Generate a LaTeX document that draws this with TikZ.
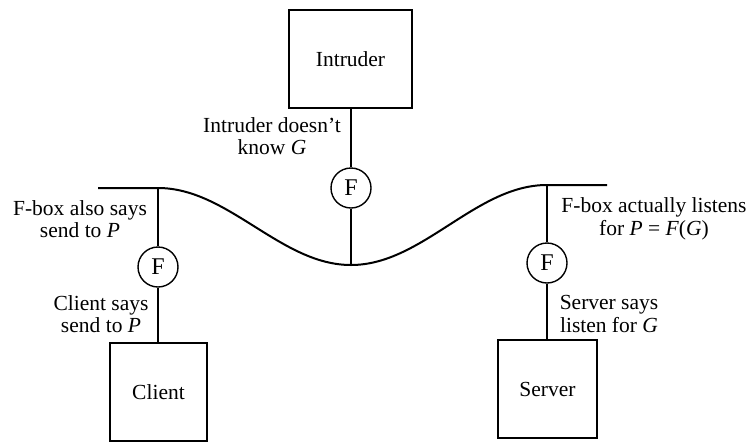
\documentclass[tikz,border=0pt]{standalone}
\usepackage{fontspec}
\setmainfont{Liberation Serif}
\begin{document}
\begin{tikzpicture}[x=1pt,y=-1pt,
  txt/.style={font=\fontsize{21.5}{22.5}\selectfont},
  lbl/.style={txt, align=center, inner sep=0pt},
  box/.style={draw, line width=1.8pt, minimum height=98pt, inner sep=0pt, txt},
  fcirc/.style={circle, draw, line width=1.4pt, minimum size=40pt, inner sep=0pt,
                font=\fontsize{24}{24}\selectfont},
  wire/.style={line width=1.5pt},
  cable/.style={line width=2pt}]
\useasboundingbox (0,0) rectangle (751,442);

% hosts
\node[box, minimum width=123pt] (intruder) at (350.5,59) {Intruder};
\node[box, minimum width=97pt]  (client)   at (158.5,392) {Client};
\node[box, minimum width=99pt]  (server)   at (547.5,389) {Server};

% F-boxes
\node[fcirc] (fi) at (351,188) {F};
\node[fcirc] (fl) at (158,267) {F};
\node[fcirc] (fr) at (547,263) {F};

% shared network cable
\coordinate (lend) at (98,188);
\coordinate (ltop) at (158,188);
\coordinate (bot)  at (351,265);
\coordinate (rtop) at (547,185);
\coordinate (rend) at (607,185);
\draw[cable] (lend) -- (ltop) cos (254.5,226.5) sin (bot) cos (449,225) sin (rtop) -- (rend);

% taps
\draw[wire] (ltop) -- (fl) -- (fl |- client.north);
\draw[wire] (fi |- intruder.south) -- (fi) -- (bot);
\draw[wire] (rtop) -- (fr) -- (fr |- server.north);

% labels
\node[lbl] (lfl) at (80,219) {F-box also says\\send to \textit{P}};
\node[lbl] (lcl) at (101,314) {Client says\\send to \textit{P}};
\node[lbl] (lin) at (272,136) {Intruder doesn't\\know \textit{G}};
\node[lbl] (lfr) at (654,219) {F-box actually listens\\for \textit{P} = \textit{F}(\textit{G})};
\node[lbl] (lsv) at (609,314) {Server says\\listen for \textit{G}};
\end{tikzpicture}
\end{document}
